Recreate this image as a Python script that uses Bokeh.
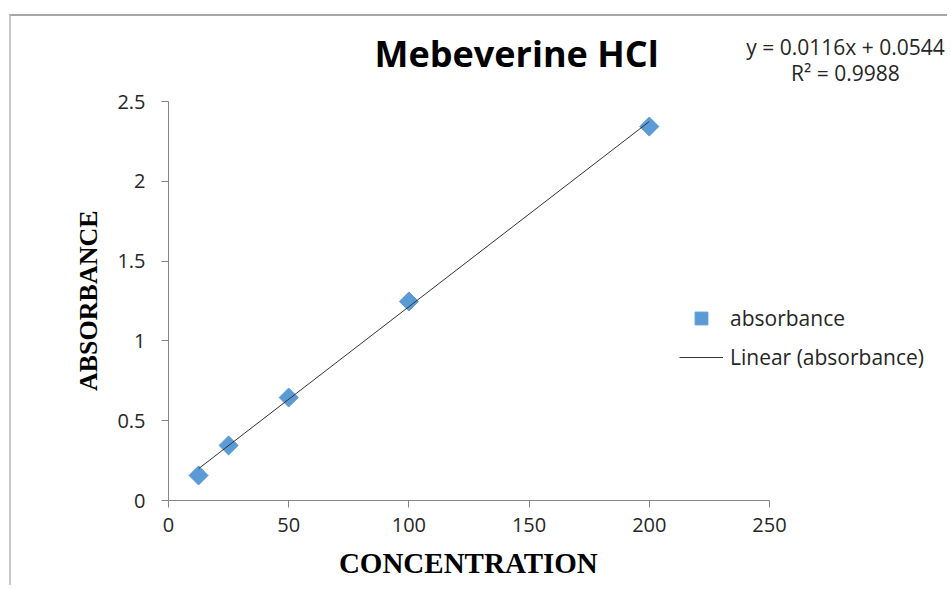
from math import pi

from bokeh.plotting import figure
from bokeh.models import (Label, FixedTicker, NumeralTickFormatter, Legend,
                          Range1d)
from bokeh.embed import file_html
from bokeh.resources import INLINE

# ---- data ----
concentration = [12.5, 25, 50, 100, 200]
absorbance = [0.157, 0.345, 0.645, 1.247, 2.343]
trend_slope = 0.0116
trend_intercept = 0.0544
r_squared = 0.9988
x_ticks = [0, 50, 100, 150, 200, 250]
y_ticks = [0, 0.5, 1, 1.5, 2, 2.5]
title_text = "Mebeverine HCl"
x_title = "CONCENTRATION"
y_title = "ABSORBANCE"
series_name = "absorbance"
trend_name = "Linear (absorbance)"

trend_x = [min(concentration), max(concentration)]
trend_y = [trend_slope * v + trend_intercept for v in trend_x]

# ---- layout (pixels) ----
W, H = 938, 571
LEFT, BOTTOM = 157, 87          # axis panels
AXIS_W, AXIS_H = 601, 399       # length of the 0..250 and 0..2.5 axes
FRAME_W, FRAME_H = W - LEFT, H - BOTTOM
x_max, y_max = x_ticks[-1], y_ticks[-1]
X_LABEL_PX, Y_LABEL_PX = 29, 26

# the frame is wider/taller than the axes (room for title, legend, equation);
# pad axis titles with no-break spaces so they stay centred on the axes
NBSP = "\u00a0"
x_pad = round((FRAME_W - AXIS_W) / (0.25 * X_LABEL_PX))
y_pad = round((FRAME_H - AXIS_H) / (0.25 * Y_LABEL_PX))

p = figure(
    width=W, height=H,
    x_range=Range1d(0, x_max * FRAME_W / AXIS_W),
    y_range=Range1d(0, y_max * FRAME_H / AXIS_H),
    output_backend="svg", toolbar_location=None,
    min_border_left=LEFT, min_border_right=0,
    min_border_top=0, min_border_bottom=BOTTOM,
    background_fill_color="white", border_fill_color="white",
)
p.styles = {
    "border-top": "2px solid #a6a6a6",
    "border-left": "2px solid #c8c8c8",
    "margin-top": "14px",
    "margin-left": "9px",
}
p.outline_line_color = None
p.grid.visible = False

for ax in (p.xaxis[0], p.yaxis[0]):
    ax.axis_line_color = "#868686"
    ax.major_tick_line_color = "#868686"
    ax.major_tick_out = 7
    ax.major_tick_in = 0
    ax.minor_tick_line_color = None
    ax.major_label_text_font = "Open Sans"
    ax.major_label_text_font_size = "20px"
    ax.major_label_text_color = "#262626"
    ax.axis_label_text_font = "Liberation Serif"
    ax.axis_label_text_font_style = "bold"
    ax.axis_label_text_color = "black"

p.xaxis.bounds = (0, x_max)
p.yaxis.bounds = (0, y_max)
p.xaxis.ticker = FixedTicker(ticks=x_ticks)
p.yaxis.ticker = FixedTicker(ticks=y_ticks)
p.yaxis.formatter = NumeralTickFormatter(format="0.[0]")
p.xaxis.axis_label = x_title + NBSP * x_pad
p.yaxis.axis_label = y_title + NBSP * y_pad
p.xaxis.axis_label_text_font_size = f"{X_LABEL_PX}px"
p.yaxis.axis_label_text_font_size = f"{Y_LABEL_PX}px"
p.xaxis.major_label_standoff = 10
p.yaxis.major_label_standoff = 16
p.xaxis.axis_label_standoff = 12
p.yaxis.axis_label_standoff = 11

MARKER_BLUE = "#5b9bd5"
pts = p.scatter(concentration, absorbance, marker="square", angle=pi / 4,
                size=13.5, fill_color=MARKER_BLUE, line_color=MARKER_BLUE)
ln = p.line(trend_x, trend_y, line_color="#333333", line_width=1)

legend = Legend(items=[(series_name, [pts]), (trend_name, [ln])],
                location=(511, 127))
legend.background_fill_alpha = 0
legend.border_line_alpha = 0
legend.padding = 0
legend.margin = 0
legend.spacing = 7
legend.glyph_height = 32
legend.glyph_width = 44
legend.label_height = 32
legend.label_standoff = 7
legend.label_text_font = "Open Sans"
legend.label_text_font_size = "21px"
legend.label_text_color = "#262626"
p.add_layout(legend)

p.add_layout(Label(x=144.8, y=2.80, text=title_text, text_align="center",
                   text_baseline="middle", text_font="Open Sans",
                   text_font_style="bold", text_font_size="36px",
                   text_color="black"))
p.add_layout(Label(x=281.6, y=2.84,
                   text=f"y = {trend_slope}x + {trend_intercept}",
                   text_align="center", text_baseline="middle",
                   text_font="Open Sans", text_font_size="21px",
                   text_color="#262626"))
p.add_layout(Label(x=281.6, y=2.68, text=f"R² = {r_squared}",
                   text_align="center", text_baseline="middle",
                   text_font="Open Sans", text_font_size="21px",
                   text_color="#262626"))

open("out.html", "w").write(file_html(p, INLINE))
